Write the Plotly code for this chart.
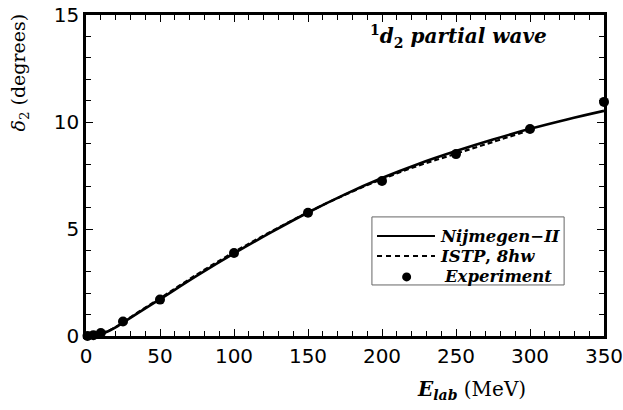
import plotly.graph_objects as go

# 1d2 phase shift vs lab energy
e_exp = [1, 5, 10, 25, 50, 100, 150, 200, 250, 300, 350]
d_exp = [0.0, 0.04, 0.14, 0.68, 1.70, 3.88, 5.76, 7.24, 8.50, 9.67, 10.94]

e_nij = [0, 5, 10, 15, 20, 25, 35, 50, 75, 100, 125, 150, 175, 200, 225, 250, 275, 300, 325, 350]
d_nij = [0.0, 0.03, 0.10, 0.22, 0.40, 0.62, 1.07, 1.72, 2.82, 3.86, 4.84, 5.77, 6.62, 7.38, 8.05, 8.64, 9.18, 9.68, 10.12, 10.52]

e_istp = [0, 5, 10, 15, 20, 25, 35, 50, 75, 100, 125, 150, 175, 200, 225, 250, 275, 300]
d_istp = [0.0, 0.03, 0.11, 0.24, 0.42, 0.64, 1.10, 1.76, 2.88, 3.92, 4.88, 5.78, 6.60, 7.33, 7.97, 8.52, 9.07, 9.62]

x_ticks = [0, 50, 100, 150, 200, 250, 300, 350]
y_ticks = [0, 5, 10, 15]

legend_labels = ["<b><i>Nijmegen−II</i></b>", "<b><i>ISTP</i>, <i>8hw</i></b>", "<b><i>Experiment</i></b>"]

serif = "DejaVu Serif"
sans = "DejaVu Sans"

fig = go.Figure()
fig.add_trace(go.Scatter(
    x=e_nij, y=d_nij, mode="lines", name="Nijmegen-II",
    line=dict(color="black", width=2.6, shape="spline"),
))
fig.add_trace(go.Scatter(
    x=e_istp, y=d_istp, mode="lines", name="ISTP, 8hw",
    line=dict(color="black", width=2.2, dash="5px,3px", shape="spline"),
))
fig.add_trace(go.Scatter(
    x=e_exp, y=d_exp, mode="markers", name="Experiment",
    marker=dict(color="black", size=10, symbol="circle"),
    cliponaxis=False,
))

axis_common = dict(
    showline=True, linecolor="black", linewidth=2.5, mirror="ticks",
    ticks="inside", ticklen=7, tickwidth=1.2, tickcolor="black",
    showgrid=False, zeroline=False,
    tickfont=dict(family=sans, size=20, color="black"),
    ticklabeloverflow="allow", automargin=False,
)

fig.update_xaxes(
    range=[0, 350], tickvals=x_ticks, ticktext=[str(v) for v in x_ticks],
    minor=dict(dtick=10, ticks="inside", ticklen=5, tickwidth=1, tickcolor="black"),
    **axis_common,
)
fig.update_yaxes(
    range=[0, 15], tickvals=y_ticks, ticktext=[str(v) for v in y_ticks],
    minor=dict(dtick=1, ticks="inside", ticklen=5, tickwidth=1, tickcolor="black"),
    **axis_common,
)

fig.add_annotation(
    text="<b><sup>1</sup><i>d</i><sub>2</sub> <i>partial wave</i></b>",
    xref="paper", yref="paper", x=0.894, y=0.934, xanchor="right", yanchor="middle",
    showarrow=False, font=dict(family=serif, size=20, color="black"),
)
fig.add_annotation(
    text="<i>δ</i><sub>2</sub> (degrees)",
    xref="paper", yref="paper", x=-0.128, y=1.01, xanchor="center", yanchor="top",
    textangle=-90, showarrow=False, font=dict(family=serif, size=19, color="black"),
)
fig.add_annotation(
    text="<b><i>E</i><sub><i>lab</i></sub></b> (MeV)",
    xref="paper", yref="paper", x=0.745, y=-0.168, xanchor="center", yanchor="middle",
    showarrow=False, font=dict(family=serif, size=20, color="black"),
)

# legend box drawn by hand for a longer line sample
fig.add_shape(type="rect", xref="paper", yref="paper",
              x0=0.552, x1=0.923, y0=0.159, y1=0.371,
              line=dict(color="#666", width=1), fillcolor="white", layer="above")
row_y = [0.3115, 0.249, 0.184]
fig.add_shape(type="line", xref="paper", yref="paper", x0=0.5618, x1=0.6737,
              y0=row_y[0], y1=row_y[0], line=dict(color="black", width=2.2), layer="above")
fig.add_shape(type="line", xref="paper", yref="paper", x0=0.5618, x1=0.6737,
              y0=row_y[1], y1=row_y[1], line=dict(color="black", width=2, dash="5px,4px"),
              layer="above")
fig.add_shape(type="circle", xref="paper", yref="paper",
              xsizemode="pixel", ysizemode="pixel", xanchor=0.619, yanchor=row_y[2],
              x0=-4.5, x1=4.5, y0=-4.5, y1=4.5,
              line=dict(color="black", width=0), fillcolor="black", layer="above")
for i, lab in enumerate(legend_labels):
    fig.add_annotation(
        text=lab, xref="paper", yref="paper",
        x=0.6795 if i < 2 else 0.687, y=row_y[i], xanchor="left", yanchor="middle",
        showarrow=False, font=dict(family=serif, size=16.5, color="black"),
    )

fig.update_layout(
    width=623, height=410,
    margin=dict(l=86, r=19, t=15, b=74),
    paper_bgcolor="white", plot_bgcolor="white",
    showlegend=False,
)

fig.write_html("out.html")
